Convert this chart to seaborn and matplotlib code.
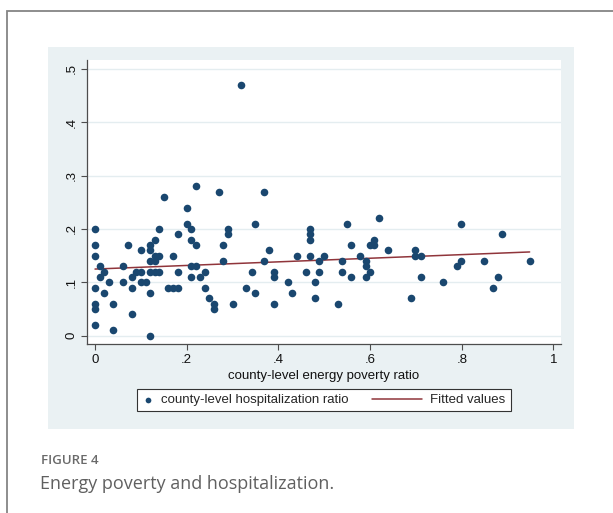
import pandas as pd
import seaborn as sns
import matplotlib.pyplot as plt
from matplotlib.patches import Rectangle
from matplotlib.legend_handler import HandlerLine2D

# values (x: energy poverty ratio, y: hospitalization ratio)
energy_poverty = [
    0.000, 0.000, 0.000, 0.011, 0.011, 0.020, 0.000, 0.000, 0.000, 0.000,
    0.020, 0.031, 0.040, 0.040, 0.060, 0.060, 0.071, 0.080, 0.080, 0.080,
    0.090, 0.100, 0.100, 0.100, 0.111, 0.120, 0.120, 0.120, 0.120, 0.120,
    0.120, 0.130, 0.130, 0.130, 0.130, 0.140, 0.140, 0.140, 0.169, 0.160,
    0.169, 0.180, 0.180, 0.180, 0.200, 0.200, 0.209, 0.209, 0.220, 0.209,
    0.220, 0.209, 0.230, 0.239, 0.239, 0.249, 0.260, 0.260, 0.279, 0.279,
    0.289, 0.289, 0.300, 0.329,
    0.342, 0.350, 0.350, 0.369, 0.380, 0.369, 0.390, 0.390, 0.390, 0.420,
    0.430, 0.440, 0.460, 0.470, 0.470, 0.470, 0.470, 0.480, 0.480, 0.489,
    0.489, 0.500, 0.529, 0.539, 0.539, 0.550, 0.559, 0.559, 0.579, 0.590,
    0.590, 0.590, 0.599, 0.599, 0.609, 0.609, 0.619, 0.639, 0.689, 0.699,
    0.699, 0.710, 0.710, 0.758,
    0.789, 0.799, 0.799, 0.849, 0.869, 0.879, 0.888, 0.948,
    0.150, 0.220, 0.270, 0.319]

hospitalization = [
    .20, .17, .15, .13, .11, .12, .09, .06, .05, .02,
    .08, .10, .06, .01, .13, .10, .17, .11, .09, .04,
    .12, .16, .12, .10, .10, .17, .16, .14, .12, .08,
    .00, .18, .14, .15, .12, .20, .15, .12, .15, .09,
    .09, .09, .19, .12, .24, .21, .20, .18, .17, .13,
    .13, .11, .11, .12, .09, .07, .06, .05, .14, .17,
    .20, .19, .06, .09,
    .12, .08, .21, .27, .16, .14, .12, .11, .06, .10,
    .08, .15, .12, .20, .19, .18, .15, .10, .07, .14,
    .12, .15, .06, .14, .12, .21, .17, .11, .15, .14,
    .13, .11, .17, .12, .18, .17, .22, .16, .07, .16,
    .15, .15, .11, .10,
    .13, .14, .21, .14, .09, .11, .19, .14,
    .26, .28, .27, .47]

x_ticks = [0, 0.2, 0.4, 0.6, 0.8, 1]
x_tick_labels = ['0', '.2', '.4', '.6', '.8', '1']
y_ticks = [0, 0.1, 0.2, 0.3, 0.4, 0.5]
y_tick_labels = ['0', '.1', '.2', '.3', '.4', '.5']

df = pd.DataFrame({'ep': energy_poverty, 'hosp': hospitalization})

sns.set_style('ticks')
plt.rcParams['font.family'] = ['Liberation Sans', 'DejaVu Sans']

W, H = 613, 513
fig = plt.figure(figsize=(W / 100, H / 100), dpi=100)

# card border (cut off at right and bottom) and stata graph region
fig.patches.append(Rectangle((6.5 / W, -0.1), 1.2, 1.1 - 11 / H, transform=fig.transFigure,
                             fill=False, ec='#858585', lw=1.3, zorder=-10))
fig.patches.append(Rectangle((48 / W, 1 - 429 / H), (574 - 48) / W, (429 - 47) / H,
                             transform=fig.transFigure, fc='#eaf1f3', ec='none', zorder=-9))

ax = fig.add_axes([87 / W, 1 - 344 / H, (561 - 87) / W, (344 - 60.3) / H])
ax.set_facecolor('white')

sns.scatterplot(data=df, x='ep', y='hosp', color='#1a476f', s=30, linewidth=0,
                legend=False, ax=ax, zorder=3)
sns.regplot(data=df, x='ep', y='hosp', scatter=False, ci=None, color='#90353b',
            line_kws={'lw': 1.1, 'zorder': 2}, ax=ax)

ax.set_xlim(-0.0175, 1.0164)
ax.set_ylim(-0.0156, 0.5162)
ax.set_xticks(x_ticks)
ax.set_xticklabels(x_tick_labels)
ax.set_yticks(y_ticks)
ax.set_yticklabels(y_tick_labels, rotation=90, va='center')
ax.grid(axis='y', color='#e4edf0', lw=1)
ax.set_axisbelow(True)

for s in ['top', 'right']:
    ax.spines[s].set_visible(False)
for s in ['left', 'bottom']:
    ax.spines[s].set_color('#4d4d4d')
    ax.spines[s].set_linewidth(0.9)
ax.tick_params(direction='out', length=4, width=0.8, color='#4d4d4d',
               labelsize=9.5, labelcolor='#111111', pad=3)

ax.set_xlabel('county-level energy poverty ratio', fontsize=9.5, color='#111111', labelpad=3)
ax.set_ylabel('')

sc = ax.collections[0]
ln = ax.lines[0]
leg = fig.legend([sc, ln], ['county-level hospitalization ratio', 'Fitted values'],
                 loc='center', bbox_to_anchor=(324 / W, 1 - 400 / H), ncol=2,
                 frameon=True, fancybox=False, edgecolor='#333333', framealpha=1,
                 fontsize=9.5, handlelength=0.8, handletextpad=0.6, columnspacing=4.8,
                 borderpad=0.4, markerscale=0.75,
                 handler_map={ln: HandlerLine2D(xpad=-3)})
leg.get_frame().set_linewidth(0.8)

fig.text(41 / W, 1 - 460 / H, 'FIGURE 4', fontsize=9.5, color='#6a6a6a',
         family=['Open Sans', 'DejaVu Sans'], fontweight='semibold', va='center')
fig.text(40 / W, 1 - 484 / H, 'Energy poverty and hospitalization.', fontsize=13,
         color='#606060', family=['Open Sans', 'DejaVu Sans'], va='center')

fig.savefig('out.png', dpi=100)
